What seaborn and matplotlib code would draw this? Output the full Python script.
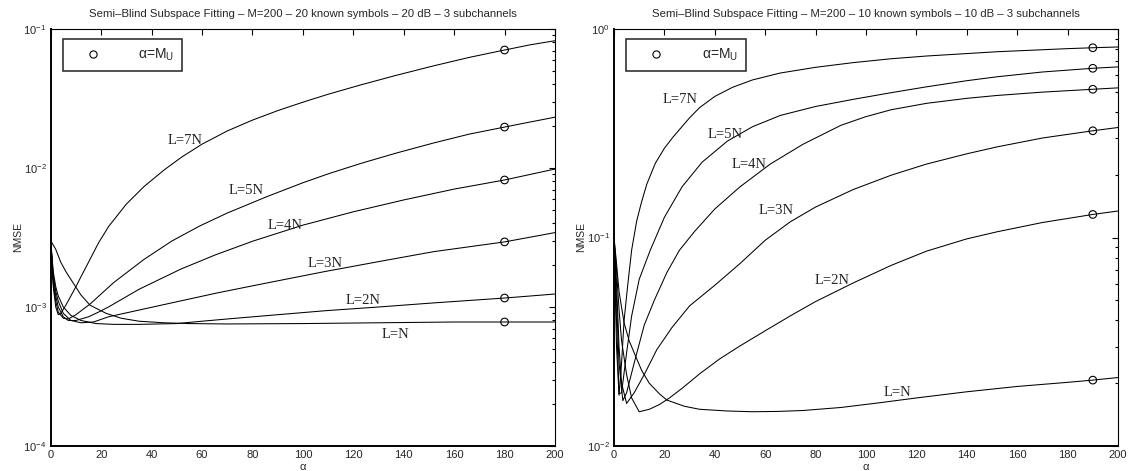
import numpy as np
import pandas as pd
import matplotlib
matplotlib.use("Agg")
import matplotlib.pyplot as plt
import seaborn as sns
from matplotlib.lines import Line2D
from matplotlib.ticker import LogLocator, NullFormatter

# ---------------- data ----------------
curve_names = ["L=7N", "L=5N", "L=4N", "L=3N", "L=2N", "L=N"]

# Left panel: 20 known symbols, 20 dB
left_x_7N = [0, 1, 2, 3, 4, 6, 8, 10, 12, 15, 19, 23, 30, 37, 45, 52, 60, 70, 80, 90, 100, 110, 123,
             137, 152, 166, 180, 190, 200]
left_y_7N = [0.003, 0.0014, 0.001, 0.00088, 0.0009, 0.00103, 0.0012, 0.0014, 0.00165, 0.0021, 0.0029,
             0.0038, 0.0055, 0.00735, 0.00969, 0.0120, 0.01484, 0.01846, 0.0221, 0.02585, 0.02974,
             0.03392, 0.03963, 0.0464, 0.05439, 0.06248, 0.0706, 0.07686, 0.08236]
left_x_5N = [0, 1, 2, 3, 5, 7, 10, 15.6, 25, 37, 48, 59, 70, 86, 100, 110, 123, 137, 152, 166, 180, 190, 200]
left_y_5N = [0.003, 0.0015, 0.0011, 0.00092, 0.00083, 0.00082, 0.00088, 0.00105, 0.0015, 0.0022, 0.00298,
             0.00382, 0.00474, 0.00625, 0.00783, 0.00907, 0.01079, 0.0128, 0.01516, 0.01753, 0.0197,
             0.0214, 0.0232]
left_x_4N = [0, 1, 2, 3, 5, 7, 10, 15, 19, 22.9, 35, 51.5, 65, 80, 100, 120, 140, 160, 180, 200]
left_y_4N = [0.003, 0.0016, 0.0012, 0.001, 0.00085, 0.0008, 0.0008, 0.00085, 0.00092, 0.001, 0.00134,
             0.00187, 0.00236, 0.00297, 0.00388, 0.00484, 0.00589, 0.00705, 0.0082, 0.00983]
left_x_3N = [0, 1, 2, 3, 5, 8, 12, 17, 22.9, 40, 65.8, 85, 108.8, 130, 151.8, 180, 200]
left_y_3N = [0.003, 0.0017, 0.0013, 0.0011, 0.0009, 0.0008, 0.00077, 0.00078, 0.00085, 0.000995, 0.00126,
             0.00148, 0.0018, 0.00212, 0.0025, 0.00294, 0.00343]
left_x_2N = [0, 1, 2, 3, 5, 8, 12, 18, 25, 35, 50, 60, 70, 90, 108.8, 130, 151.8, 180, 200]
left_y_2N = [0.003, 0.0018, 0.0014, 0.0012, 0.001, 0.00087, 0.0008, 0.00076, 0.00075, 0.00075, 0.00076,
             0.00079, 0.00082, 0.00088, 0.00094, 0.001, 0.00107, 0.00116, 0.00124]
left_x_1N = [0, 2, 4, 6, 9, 12, 15.6, 22, 28, 35, 45, 55, 70, 100, 130, 160, 180, 200]
left_y_1N = [0.003, 0.0026, 0.0021, 0.0018, 0.00148, 0.00122, 0.00103, 0.0009, 0.00083, 0.00079, 0.00077,
             0.00076, 0.000755, 0.00076, 0.00077, 0.00078, 0.00078, 0.00078]

# Right panel: 10 known symbols, 10 dB
right_x_7N = [0, 1, 2, 3, 4, 5.5, 7, 9, 10.8, 13, 16.4, 20, 23.5, 30, 34, 40, 47, 55, 66, 80, 95, 110,
              124, 152, 180, 190, 200]
right_y_7N = [0.1, 0.03, 0.0175, 0.025, 0.04, 0.06, 0.087, 0.12, 0.146, 0.18, 0.227, 0.268, 0.304, 0.375,
              0.42, 0.475, 0.525, 0.57, 0.615, 0.655, 0.69, 0.72, 0.742, 0.778, 0.805, 0.813, 0.82]
right_x_5N = [0, 1, 2, 3, 5, 7, 10, 14.4, 20, 27, 35, 45, 55, 66, 80, 95, 110, 124, 140, 152, 170, 190, 200]
right_y_5N = [0.1, 0.04, 0.0178, 0.018, 0.028, 0.042, 0.063, 0.087, 0.125, 0.175, 0.23, 0.29, 0.34, 0.385,
              0.425, 0.46, 0.495, 0.528, 0.565, 0.59, 0.622, 0.648, 0.658]
right_x_4N = [0, 1, 2, 3.5, 5, 8, 12, 16, 21, 26, 32, 40, 50, 62, 75, 90, 100, 110, 124, 140, 152, 170,
              190, 200]
right_y_4N = [0.1, 0.05, 0.025, 0.0165, 0.018, 0.025, 0.038, 0.05, 0.068, 0.087, 0.107, 0.137, 0.175, 0.225,
              0.28, 0.345, 0.38, 0.41, 0.44, 0.465, 0.48, 0.498, 0.514, 0.522]
right_x_3N = [0, 1, 2, 3, 5, 8, 12, 17, 23, 30, 40, 50, 60, 70, 80, 95, 110, 124, 140, 152, 170, 190, 200]
right_y_3N = [0.1, 0.06, 0.03, 0.02, 0.016, 0.018, 0.022, 0.029, 0.037, 0.047, 0.059, 0.075, 0.097, 0.119,
              0.14, 0.17, 0.199, 0.225, 0.252, 0.272, 0.30, 0.325, 0.337]
right_x_2N = [0, 1, 2, 3, 5, 7, 10, 14, 18, 22, 27, 34, 42, 50, 60, 70, 80, 95, 110, 124, 140, 152, 170,
              190, 200]
right_y_2N = [0.1, 0.07, 0.045, 0.032, 0.022, 0.017, 0.0146, 0.0150, 0.0158, 0.0170, 0.0189, 0.0222, 0.0262,
              0.0302, 0.0357, 0.0421, 0.0493, 0.0606, 0.0735, 0.0860, 0.0985, 0.1065, 0.118, 0.129, 0.134]
right_x_1N = [0, 0.5, 1, 2, 4, 6, 8, 11, 14, 18, 21, 28, 34, 45, 55, 65, 75, 90, 105, 120, 140, 160, 180,
              190, 200]
right_y_1N = [0.1, 0.087, 0.075, 0.055, 0.039, 0.032, 0.028, 0.023, 0.020, 0.0178, 0.0166, 0.0155, 0.0150,
              0.01472, 0.0146, 0.01465, 0.0148, 0.0153, 0.0161, 0.0170, 0.0182, 0.0193, 0.0202, 0.0207,
              0.0213]

marker_alpha_left = 180
marker_alpha_right = 190

titles = ["Semi\u2013Blind Subspace Fitting \u2013 M=200 \u2013 20 known symbols \u2013 20 dB \u2013 3 subchannels",
          "Semi\u2013Blind Subspace Fitting \u2013 M=200 \u2013 10 known symbols \u2013 10 dB \u2013 3 subchannels"]
xticks = [0, 20, 40, 60, 80, 100, 120, 140, 160, 180, 200]
ylims = [(1e-4, 1e-1), (1e-2, 1e0)]
legend_label = "\u03b1=M$_{\\mathrm{U}}$"

left_curves = {
    "L=7N": (left_x_7N, left_y_7N), "L=5N": (left_x_5N, left_y_5N), "L=4N": (left_x_4N, left_y_4N),
    "L=3N": (left_x_3N, left_y_3N), "L=2N": (left_x_2N, left_y_2N), "L=N": (left_x_1N, left_y_1N),
}
right_curves = {
    "L=7N": (right_x_7N, right_y_7N), "L=5N": (right_x_5N, right_y_5N), "L=4N": (right_x_4N, right_y_4N),
    "L=3N": (right_x_3N, right_y_3N), "L=2N": (right_x_2N, right_y_2N), "L=N": (right_x_1N, right_y_1N),
}

# curve label positions (data coordinates)
left_label_pos = {"L=7N": (53.3, 0.0159), "L=5N": (77.5, 0.00684), "L=4N": (93, 0.00383),
                  "L=3N": (108.8, 0.00204), "L=2N": (124, 0.00112), "L=N": (136.7, 0.00063)}
right_label_pos = {"L=7N": (26.4, 0.457), "L=5N": (44.3, 0.313), "L=4N": (53.6, 0.225),
                   "L=3N": (64.3, 0.134), "L=2N": (86.5, 0.0625), "L=N": (112.3, 0.0180)}

# ---------------- style ----------------
sns.set_theme(style="white")
plt.rcParams["font.family"] = ["Liberation Sans", "DejaVu Sans"]
plt.rcParams["mathtext.fontset"] = "custom"
plt.rcParams["mathtext.rm"] = "Liberation Sans"
plt.rcParams["mathtext.it"] = "Liberation Sans:italic"
plt.rcParams["axes.edgecolor"] = "black"

fig = plt.figure(figsize=(11.3, 4.71), dpi=100)
W, H = 1130.0, 471.0
ax_left = fig.add_axes([50.7 / W, (H - 446) / H, (555 - 50.7) / W, (446 - 29) / H])
ax_right = fig.add_axes([614 / W, (H - 446) / H, (1118 - 614) / W, (446 - 29) / H])


def draw_panel(ax, curves, marker_x, label_pos, title, ylim):
    rows = []
    for name in curve_names:
        xs, ys = curves[name]
        for x, y in zip(xs, ys):
            rows.append({"alpha": x, "nmse": y, "curve": name})
    df = pd.DataFrame(rows)
    sns.lineplot(data=df, x="alpha", y="nmse", units="curve", estimator=None, sort=False,
                 color="black", lw=0.75, ax=ax, legend=False)
    mk = df[df["alpha"] == marker_x]
    sns.scatterplot(data=mk, x="alpha", y="nmse", marker="o", s=30, facecolors="none",
                    edgecolor="black", linewidth=0.8, ax=ax, legend=False, zorder=5)
    for name in curve_names:
        lx, ly = label_pos[name]
        ax.text(lx, ly, name, family=["Liberation Serif", "DejaVu Serif"], fontsize=10.5,
                ha="center", va="center")
    ax.set_yscale("log")
    ax.set_xlim(0, 200)
    ax.set_ylim(*ylim)
    ax.set_xticks(xticks)
    ax.yaxis.set_major_locator(LogLocator(base=10, numticks=10))
    ax.yaxis.set_minor_locator(LogLocator(base=10, subs=np.arange(2, 10), numticks=10))
    ax.yaxis.set_minor_formatter(NullFormatter())
    ax.tick_params(which="both", direction="in", top=True, right=True, labelsize=8, pad=3,
                   width=0.8, color="black")
    ax.tick_params(which="major", length=4.5)
    ax.tick_params(which="minor", length=2.5)
    ax.set_title(title, fontsize=8.2, pad=8.5)
    ax.set_ylabel("NMSE", fontsize=7.5, labelpad=0.5)
    ax.set_xlabel("\u03b1", fontsize=8, labelpad=1)
    for side in ["left", "bottom"]:
        ax.spines[side].set_linewidth(1.4)
    for side in ["top", "right"]:
        ax.spines[side].set_linewidth(0.8)
    handle = Line2D([], [], marker="o", markersize=5.2, markerfacecolor="none",
                    markeredgecolor="black", markeredgewidth=0.8, linestyle="none")
    leg = ax.legend([handle], [legend_label], loc="upper left", bbox_to_anchor=(0.024, 0.976),
                    fontsize=10, frameon=True, fancybox=False, handlelength=3.2, handletextpad=1.7,
                    borderpad=0.55, borderaxespad=0)
    leg.get_frame().set_edgecolor("black")
    leg.get_frame().set_linewidth(1.2)


draw_panel(ax_left, left_curves, marker_alpha_left, left_label_pos, titles[0], ylims[0])
draw_panel(ax_right, right_curves, marker_alpha_right, right_label_pos, titles[1], ylims[1])

fig.savefig("out.png", dpi=100)
